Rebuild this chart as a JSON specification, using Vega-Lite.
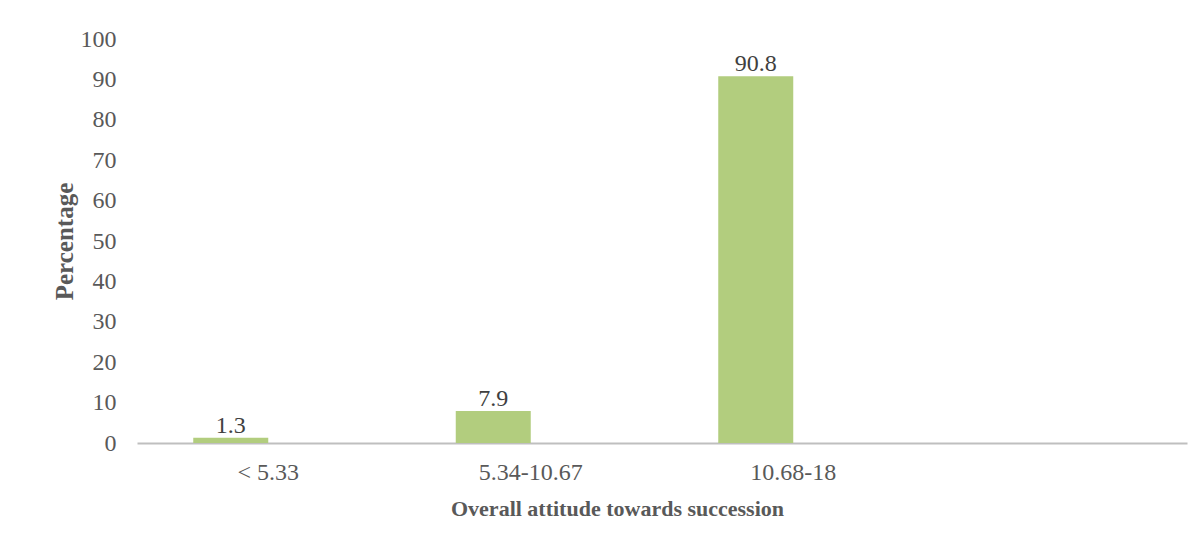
{
  "$schema": "https://vega.github.io/schema/vega-lite/v6.json",
  "width": 1050,
  "height": 404,
  "autosize": {"type": "none"},
  "padding": {"left": 137, "top": 39, "right": 16, "bottom": 104},
  "background": "white",
  "config": {
    "view": {"stroke": null},
    "font": "Liberation Serif",
    "axis": {"labelFont": "Liberation Serif", "titleFont": "Liberation Serif", "labelColor": "#595959", "titleColor": "#595959", "grid": false, "ticks": false, "tickSize": 0}
  },
  "data": {
    "values": [
      {"cat": "< 5.33", "s": "a", "pct": 1.3},
      {"cat": "5.34-10.67", "s": "a", "pct": 7.9},
      {"cat": "10.68-18", "s": "a", "pct": 90.8}
    ]
  },
  "encoding": {
    "x": {
      "field": "cat", "type": "nominal",
      "scale": {"domain": ["< 5.33", "5.34-10.67", "10.68-18", " "], "paddingInner": 0.4286, "paddingOuter": 0.2143},
      "axis": {"labelAngle": 0, "labelFontSize": 24, "labelPadding": 17, "title": "Overall attitude towards succession", "titleFontSize": 22, "titleFontWeight": "bold", "titlePadding": 14, "titleX": 480, "domainColor": "#bfbfbf", "domainWidth": 2}
    },
    "xOffset": {"field": "s", "type": "nominal", "scale": {"domain": ["a", "b"], "paddingInner": 0, "paddingOuter": 0}},
    "y": {
      "field": "pct", "type": "quantitative",
      "scale": {"domain": [0, 100], "nice": false},
      "axis": {"values": [0,10,20,30,40,50,60,70,80,90,100], "domain": false, "labelFontSize": 24, "labelPadding": 21, "title": "Percentage", "titleFontSize": 25, "titleFontWeight": "bold", "titlePadding": 3}
    }
  },
  "layer": [
    {"mark": {"type": "bar", "color": "#b2cd7e"}},
    {"mark": {"type": "text", "baseline": "alphabetic", "dy": -5, "fontSize": 24, "color": "#404040", "font": "Liberation Serif"}, "encoding": {"text": {"field": "pct", "type": "quantitative", "format": ".1f"}}}
  ]
}
